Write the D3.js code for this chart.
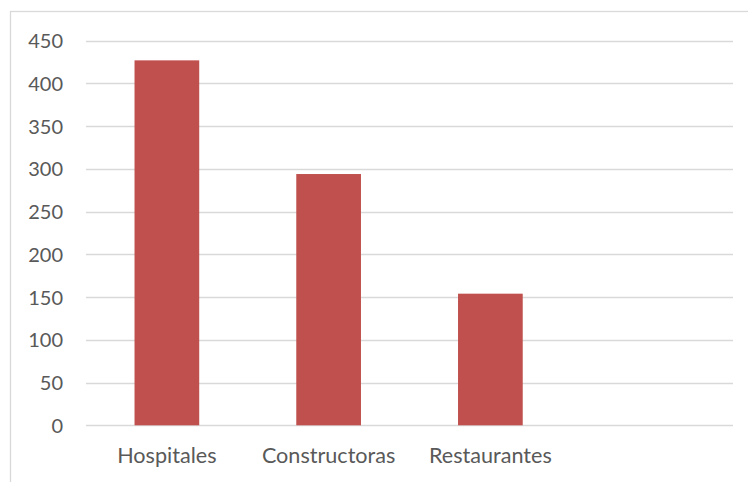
<!DOCTYPE html>
<html><head><meta charset="utf-8">
<script src="https://cdn.jsdelivr.net/npm/d3@7"></script>
<style>body{margin:0;background:#fff}svg{display:block}text{font-family:Lato,"Open Sans",sans-serif;fill:#595959}</style>
</head><body><svg id="c" width="748" height="482"></svg>
<script>
const categories = ["Hospitales", "Constructoras", "Restaurantes", ""];
const values = [427, 294, 154, null];
const yTicks = [0, 50, 100, 150, 200, 250, 300, 350, 400, 450];

const svg = d3.select("#c");
svg.append("rect").attr("x",10.5).attr("y",11.5).attr("width",760).attr("height",500)
  .attr("fill","none").attr("stroke","#d9d9d9").attr("stroke-width",1.3);

const x = d3.scaleBand().domain(categories.map((c,i)=>i)).range([86,733]).paddingInner(0.6).paddingOuter(0.3);
const y = d3.scaleLinear().domain([0,450]).range([425.3,40.7]);

const grid = svg.append("g");
grid.selectAll("line").data(yTicks).join("line")
  .attr("x1",86).attr("x2",733)
  .attr("y1",d=>Math.round(y(d))+0.5).attr("y2",d=>Math.round(y(d))+0.5)
  .attr("stroke","#d9d9d9").attr("stroke-width",1.3);

const yAxis = d3.axisLeft(y).tickValues(yTicks).tickSize(0).tickPadding(0);
const ga = svg.append("g").attr("transform","translate(63,0)").call(yAxis);
ga.select(".domain").remove();
ga.selectAll("text").style("font-size","20px").attr("fill","#595959").attr("dy","0.35em");

svg.append("g").selectAll("rect").data(values.map((v,i)=>({v,i})).filter(d=>d.v!=null)).join("rect")
  .attr("x",d=>x(d.i)).attr("width",x.bandwidth())
  .attr("y",d=>y(d.v)).attr("height",d=>y(0)-y(d.v))
  .attr("fill","#c0504d");

const xAxis = d3.axisBottom(x).tickFormat(i=>categories[i]).tickSize(0).tickPadding(0);
const gx = svg.append("g").attr("transform","translate(0,463)").call(xAxis);
gx.select(".domain").remove();
gx.selectAll("text").style("font-size","21.6px").attr("fill","#595959").attr("dy","0");
</script></body></html>
